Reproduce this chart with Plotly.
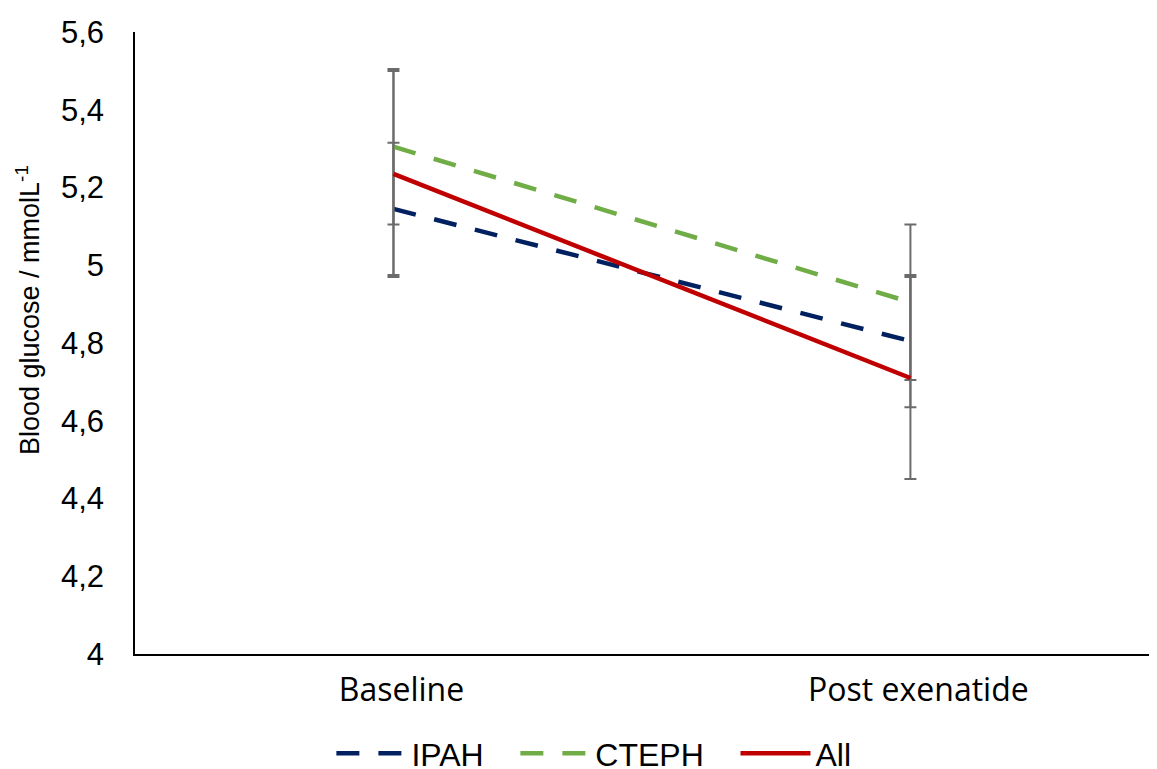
import plotly.graph_objects as go

categories = ["Baseline", "Post exenatide"]
ipah = [5.145, 4.805]
ipah_err = [0.17, 0.17]
cteph = [5.305, 4.905]
cteph_err = [0.2, 0.2]
all_pts = [5.235, 4.71]
all_err = [0.265, 0.26]
y_ticks = [4, 4.2, 4.4, 4.6, 4.8, 5, 5.2, 5.4, 5.6]
y_title = "Blood glucose / mmolL<sup>-1</sup>"

err_style = dict(type="data", visible=True, color="#6b6b6b", thickness=2, width=6)
PAD = "\u00a0" * 3

fig = go.Figure()
fig.add_trace(go.Scatter(
    x=categories, y=ipah, name="IPAH" + PAD, mode="lines",
    line=dict(color="#002060", width=4.5, dash="23px,19px"),
    error_y=dict(array=ipah_err, **err_style)))
fig.add_trace(go.Scatter(
    x=categories, y=cteph, name="CTEPH" + PAD, mode="lines",
    line=dict(color="#70AD47", width=4.5, dash="23px,19px"),
    error_y=dict(array=cteph_err, **err_style)))
fig.add_trace(go.Scatter(
    x=categories, y=all_pts, name="All", mode="lines",
    line=dict(color="#C00000", width=4.5),
    error_y=dict(array=all_err, **err_style)))

fig.add_annotation(
    text=y_title, textangle=-90, showarrow=False,
    xref="paper", yref="paper", x=-0.1047, y=0.553,
    xanchor="center", yanchor="middle",
    font=dict(family="Liberation Sans, Arial", size=27, color="black"))

fig.update_layout(
    width=1149, height=761,
    paper_bgcolor="white", plot_bgcolor="white",
    separators=", ",
    margin=dict(l=127, r=0, t=24, b=115, autoexpand=False),
    font=dict(family="Liberation Sans, Arial", color="black"),
    showlegend=True,
    legend=dict(orientation="h", x=0.449, xanchor="center", y=-0.16, yanchor="middle",
                font=dict(family="Liberation Sans, Arial", size=32),
                itemwidth=70, traceorder="normal"),
    xaxis=dict(
        type="category", range=[-0.5, 1.477],
        showline=True, linecolor="#000000", linewidth=1.5,
        showgrid=False, zeroline=False, ticks="",
        tickfont=dict(family="Open Sans", size=32, color="black"),
        ticklabelstandoff=7, ticklabelshift=8),
    yaxis=dict(
        range=[4, 5.6], tickvals=y_ticks,
        showline=True, linecolor="#000000", linewidth=1.5,
        showgrid=False, zeroline=False, ticks="",
        tickfont=dict(family="Liberation Sans, Arial", size=31, color="black"),
        ticklabelstandoff=23),
)

fig.write_html("out.html")
